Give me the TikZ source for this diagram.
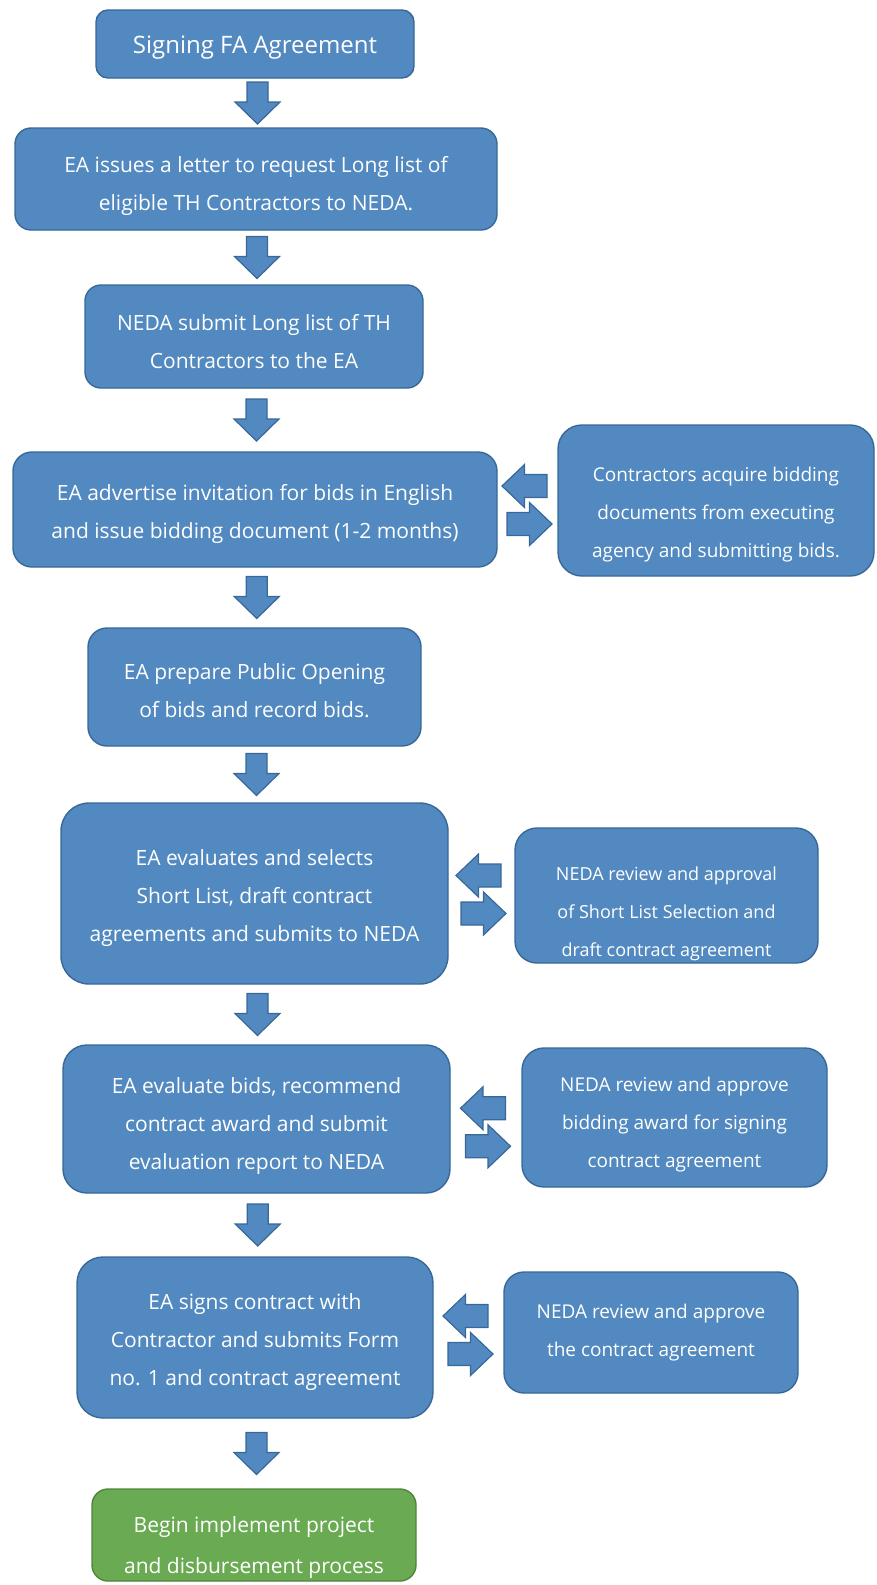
\documentclass[tikz,border=0pt]{standalone}
\usepackage{fontspec}
\setmainfont{Open Sans}
\usetikzlibrary{calc}

\definecolor{boxblue}{RGB}{82,137,192}
\definecolor{boxedge}{RGB}{55,104,152}
\definecolor{boxgreen}{RGB}{106,170,82}
\definecolor{greenedge}{RGB}{78,134,60}

\newcommand\padtop[1]{\rule{0pt}{#1}}

\tikzset{
    flowbox/.style={draw=boxedge, fill=boxblue, line width=1.4pt, rounded corners=16pt,
        text=white, align=center, inner sep=0pt, font=\fontsize{21}{38}\selectfont},
    sidebox/.style={flowbox, font=\fontsize{19}{38}\selectfont},
    endbox/.style={flowbox, draw=greenedge, fill=boxgreen, font=\fontsize{21}{41}\selectfont},
    blockarr/.style={draw=boxedge, fill=boxblue, line width=1.2pt, line join=miter},
    pics/downarr/.style={code={
        \draw[blockarr] (-10.5,-21) -- (10.5,-21) -- (10.5,-1) -- (22.5,-1) -- (0,21) -- (-22.5,-1) -- (-10.5,-1) -- cycle;
    }},
    pics/swaparr/.style={code={
        \draw[blockarr, shift={(-3,-19)}] (22.5,-11.5) -- (0,-11.5) -- (0,-21.5) -- (-22.5,0) -- (0,21.5) -- (0,11.5) -- (22.5,11.5) -- cycle; % back
        \draw[blockarr, shift={(2,19)}] (-22.5,-11.5) -- (0,-11.5) -- (0,-21.5) -- (22.5,0) -- (0,21.5) -- (0,11.5) -- (-22.5,11.5) -- cycle; % forth
    }},
}

\begin{document}
\begin{tikzpicture}[x=1pt, y=-1pt, line join=round]

    % --- 1. page frame ---
    \useasboundingbox (0,0) rectangle (876,1585);

    % --- 2. main column ---
    \node[flowbox, font=\fontsize{24}{28}\selectfont, rounded corners=12pt, minimum width=318pt, minimum height=68pt] (sign) at (255,44)
        {\padtop{24pt}Signing FA Agreement};
    \node[flowbox, minimum width=482pt, minimum height=102pt] (req) at (256,179)
        {\padtop{30pt}EA issues a letter to request Long list of\\eligible TH Contractors to NEDA.};
    \node[flowbox, minimum width=338pt, minimum height=103pt] (longlist) at (254,336.5)
        {\padtop{26pt}NEDA submit Long list of TH\\Contractors to the EA};
    \node[flowbox, rounded corners=19pt, minimum width=484pt, minimum height=115pt] (advert) at (255,509.5)
        {\padtop{26pt}EA advertise invitation for bids in English\\and issue bidding document (1-2 months)};
    \node[flowbox, rounded corners=19pt, minimum width=333pt, minimum height=118pt] (opening) at (254.5,687)
        {\padtop{24pt}EA prepare Public Opening\\of bids and record bids.};
    \node[flowbox, rounded corners=28pt, minimum width=387pt, minimum height=181pt] (shortlist) at (254.5,893.5)
        {\padtop{26pt}EA evaluates and selects\\Short List, draft contract\\agreements and submits to NEDA};
    \node[flowbox, rounded corners=24pt, minimum width=387pt, minimum height=148pt] (evalbids) at (256.5,1119)
        {\padtop{30pt}EA evaluate bids, recommend\\contract award and submit\\evaluation report to NEDA};
    \node[flowbox, rounded corners=26pt, minimum width=356pt, minimum height=161pt] (signs) at (255,1337.5)
        {\padtop{26pt}EA signs contract with\\Contractor and submits Form\\no. 1 and contract agreement};
    \node[endbox, minimum width=324pt, minimum height=92pt] (begin) at (254,1535)
        {\padtop{41pt}Begin implement project\\and disbursement process};

    % --- 3. side boxes ---
    \node[sidebox, rounded corners=24pt, minimum width=316pt, minimum height=151pt] (bids) at (716,500.5)
        {\padtop{43pt}Contractors acquire bidding\\documents from executing\\agency and submitting bids.};
    \node[sidebox, font=\fontsize{18}{38}\selectfont, rounded corners=22pt, minimum width=303pt, minimum height=135pt] (slreview) at (666.5,895.5)
        {\padtop{51pt}NEDA review and approval\\of Short List Selection and\\draft contract agreement};
    \node[sidebox, rounded corners=22pt, minimum width=305pt, minimum height=139pt] (awardrev) at (674.5,1117.5)
        {\padtop{28pt}NEDA review and approve\\bidding award for signing\\contract agreement};
    \node[sidebox, rounded corners=20pt, minimum width=294pt, minimum height=121pt] (contrrev) at (651,1332.5)
        {NEDA review and approve\\the contract agreement};

    % --- 4. block arrows ---
    \foreach \a/\b in {sign/req, req/longlist, longlist/advert, advert/opening,
                       opening/shortlist, shortlist/evalbids, evalbids/signs, signs/begin}
        \pic at ($(\a.south)!.5!(\b.north)+(2,0)$) {downarr};

    \foreach \a/\b/\dy in {advert/bids/0, shortlist/slreview/0, evalbids/awardrev/9, signs/contrrev/0}
        \pic at ($(\a.east)!.5!(\b.west)+(0,\dy)$) {swaparr};

\end{tikzpicture}
\end{document}
